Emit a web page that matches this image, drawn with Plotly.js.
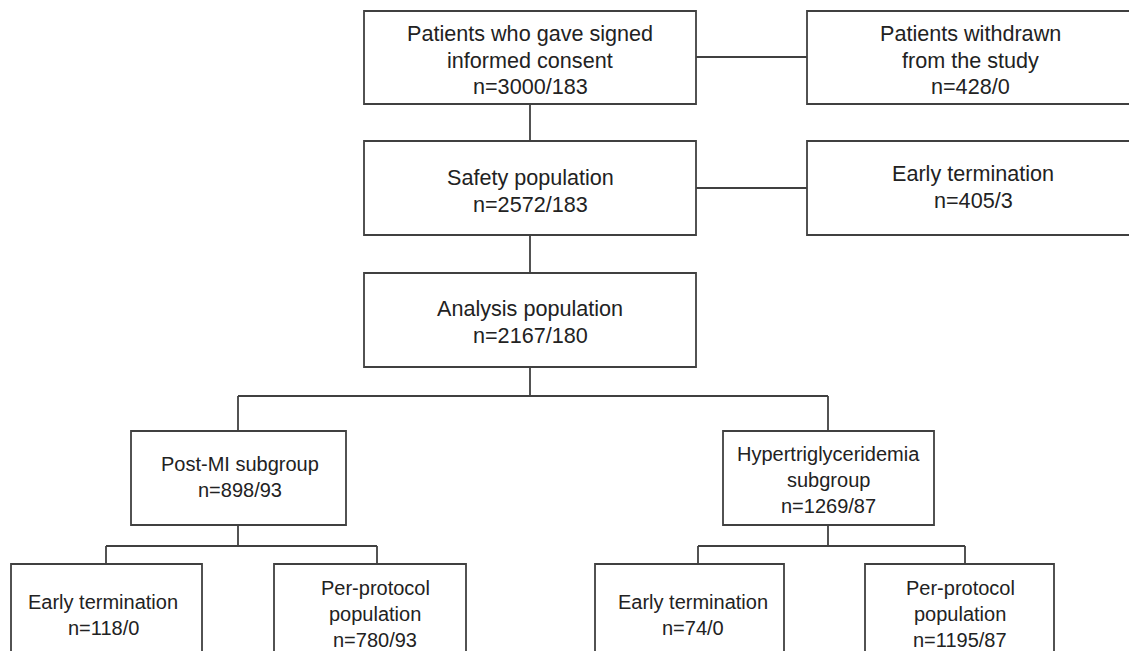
<!DOCTYPE html>
<html>
<head>
<meta charset="utf-8">
<script src="https://cdn.plot.ly/plotly-3.0.1.min.js"></script>
<style>html,body{margin:0;padding:0;background:#fff;}#chart{width:1129px;height:651px;}</style>
</head>
<body>
<div id="chart"></div>
<script>
// ---- data ----
const nodeLabels = [
  "Patients who gave signed|informed consent",
  "Patients withdrawn|from the study",
  "Safety population",
  "Early termination",
  "Analysis population",
  "Post-MI subgroup",
  "Hypertriglyceridemia|subgroup",
  "Early termination",
  "Per-protocol|population",
  "Early termination",
  "Per-protocol|population"
];
const nTotal = [3000, 428, 2572, 405, 2167, 898, 1269, 118, 780, 74, 1195];
const nSub   = [183, 0, 183, 3, 180, 93, 87, 0, 93, 0, 87];

// ---- layout geometry (pixels) ----
const boxes = [
  {x0:364, x1:696, y0:11,  y1:104},
  {x0:807, x1:1140, y0:11, y1:104},
  {x0:364, x1:696, y0:141, y1:235},
  {x0:807, x1:1140, y0:141, y1:235},
  {x0:364, x1:696, y0:273, y1:367},
  {x0:131, x1:346, y0:431, y1:525},
  {x0:723, x1:934, y0:431, y1:525},
  {x0:11,  x1:202, y0:564, y1:665},
  {x0:274, x1:466, y0:564, y1:665},
  {x0:595, x1:784, y0:564, y1:665},
  {x0:865, x1:1054, y0:564, y1:665}
];
const lineColor = "#404040";
const lw = 1.8;

const shapes = [];
boxes.forEach(b => shapes.push({type:"rect", xref:"x", yref:"y", x0:b.x0, x1:b.x1, y0:b.y0, y1:b.y1,
  line:{color:lineColor, width:lw}, fillcolor:"rgba(0,0,0,0)"}));

function seg(x0,y0,x1,y1){ shapes.push({type:"line", xref:"x", yref:"y", x0:x0,y0:y0,x1:x1,y1:y1, line:{color:lineColor,width:lw}}); }
seg(530,104,530,141);
seg(530,235,530,273);
seg(696,57,807,57);
seg(696,188,807,188);
seg(530,367,530,396);
seg(238,396,828,396);
seg(238,396,238,431);
seg(828,396,828,431);
seg(238,525,238,546);
seg(106,546,377,546);
seg(106,546,106,564);
seg(377,546,377,564);
seg(828,525,828,546);
seg(698,546,965,546);
seg(698,546,698,564);
seg(965,546,965,564);

const textCenters = [
  [530,60],[970,60],[530,191],[973,187],[530,322],[240,477],[828,480],[103,615],[375,614],[693,615],[960,614]
];
const fontSizes = [21.6,21.6,21.6,21.6,21.6,20,20,20,20,20,20];
const lineGap = [26.7,26.7,26.7,26.7,26.7,26,26,26,26,26,26];

const annotations = [];
nodeLabels.forEach((lab,i) => {
  const lines = lab.split("|").concat(["n=" + nTotal[i] + "/" + nSub[i]]);
  const k = lines.length;
  lines.forEach((t,j) => {
    annotations.push({
      xref:"x", yref:"y", x:textCenters[i][0], y:textCenters[i][1] + (j - (k-1)/2)*lineGap[i],
      text:t, showarrow:false, xanchor:"center", yanchor:"middle", align:"center",
      font:{family:"Liberation Sans, Arial, sans-serif", size:fontSizes[i], color:"#222222"}
    });
  });
});

const layout = {
  width:1129, height:651,
  margin:{l:0,r:0,t:0,b:0},
  paper_bgcolor:"#ffffff", plot_bgcolor:"#ffffff",
  xaxis:{range:[0,1129], visible:false, fixedrange:true},
  yaxis:{range:[651,0], visible:false, fixedrange:true},
  shapes:shapes, annotations:annotations, showlegend:false
};

Plotly.newPlot("chart", [{x:[],y:[],type:"scatter",mode:"markers",hoverinfo:"skip"}], layout, {displayModeBar:false, staticPlot:true});
</script>
</body>
</html>
